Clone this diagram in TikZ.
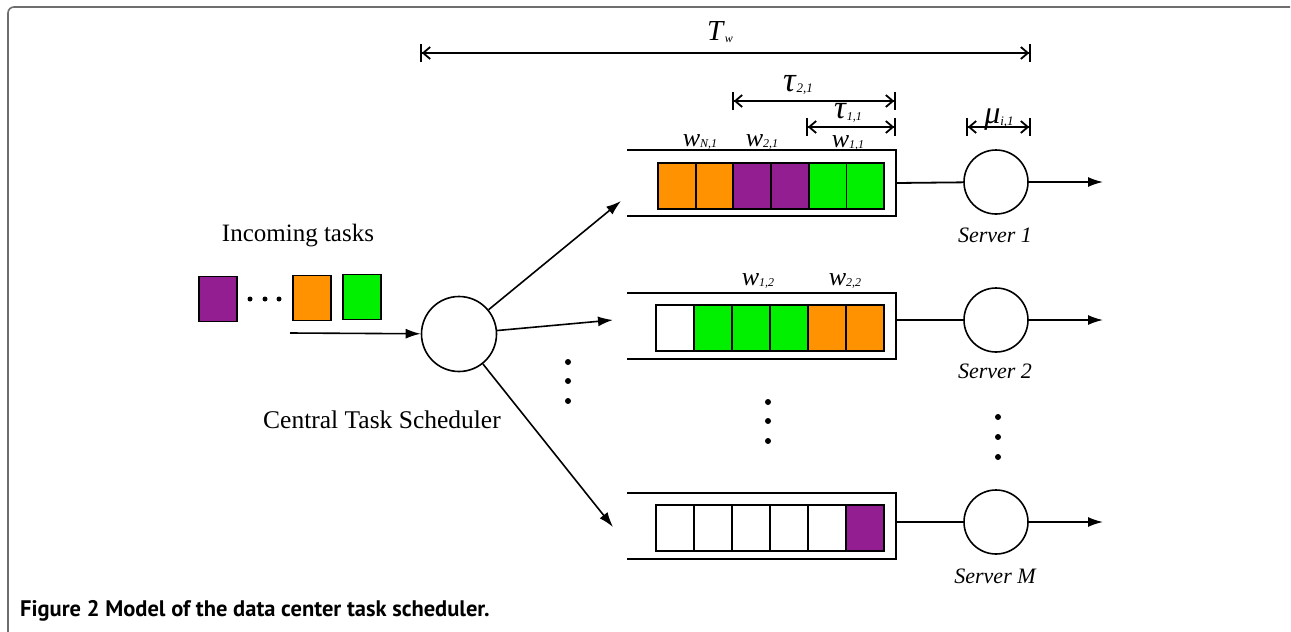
\documentclass[tikz,border=0pt]{standalone}
\usepackage{fontspec}
\setmainfont{Liberation Serif}
\newfontfamily\capfont{PT Sans}
\usetikzlibrary{arrows.meta,calc}

\definecolor{taskorange}{RGB}{255,146,0}
\definecolor{taskpurple}{RGB}{146,30,146}
\definecolor{taskgreen}{RGB}{0,240,0}
\definecolor{framegray}{RGB}{110,110,110}

% symbol with a small italic subscript
\newcommand{\symsub}[4]{{\fontsize{#3}{#3}\selectfont\textit{#1}}{\fontsize{#4}{#4}\selectfont\raisebox{-0.25ex}{\textit{#2}}}}

\begin{document}
\begin{tikzpicture}[x=1pt,y=-1pt,
  qline/.style={line width=1.8pt},
  cell/.style={draw, line width=1.8pt, minimum width=37.7pt, minimum height=46pt,
               inner sep=0pt, anchor=north west},
  task/.style={draw, line width=1.6pt, minimum width=38pt, minimum height=45pt, inner sep=0pt},
  server/.style={circle, draw, line width=1.6pt, minimum size=64pt, inner sep=0pt},
  flow/.style={line width=1.6pt, -{Latex[length=15pt,width=10pt]}},
  dimarr/.style={line width=1.8pt,
     {Bar[width=18pt,line width=1.8pt]Straight Barb[length=7pt,width=12pt,line width=1.8pt]}-{Straight Barb[length=7pt,width=12pt,line width=1.8pt]Bar[width=18pt,line width=1.8pt]}},
  dot/.style={circle, fill, minimum size=6pt, inner sep=0pt},
  plain/.style={inner sep=0pt}
]
\useasboundingbox (0,0) rectangle (1291,632);

% panel frame
\draw[framegray, line width=1.6pt, rounded corners=6pt] (8,632) -- (8,7) -- (1290,7);

% ---------------- incoming tasks ----------------
\node[plain, font=\fontsize{25}{25}\selectfont] (inlbl) at (298,236) {Incoming tasks};
\node[task, fill=taskpurple] (t1) at (218,299) {};
\node[dot, minimum size=5pt] (d1) at (250,299) {};
\node[dot, minimum size=5pt] (d2) at (265,299) {};
\node[dot, minimum size=5pt] (d3) at (279,299) {};
\node[task, fill=taskorange] (t2) at (312,298) {};
\node[task, fill=taskgreen] (t3) at (362,297) {};

% ---------------- central scheduler ----------------
\node[circle, draw, line width=1.6pt, minimum size=75pt, inner sep=0pt] (cts) at (459,334) {};
\node[plain, font=\fontsize{25.5}{25.5}\selectfont] (ctslbl) at (382,420) {Central Task Scheduler};
\coordinate (src) at (290,333);
\draw[flow] (src) -- (cts);

\coordinate (q1in) at (621,201);
\coordinate (q2in) at (613,320);
\coordinate (qMin) at (613,527);
\draw[flow] (cts) -- (q1in);
\draw[flow] (cts) -- (q2in);
\draw[flow] (cts) -- (qMin);

% ---------------- queue 1 ----------------
\draw[qline] (627,150) -| (896,216) -- (627,216);
\foreach \c [count=\i] in {taskorange,taskorange,taskpurple,taskpurple,taskgreen,taskgreen}
  \node[cell, fill=\c] (qa\i) at ({657+37.7*(\i-1)},162) {};
\coordinate (q1out) at (896,183);
\node[server] (s1) at (996,182) {};
\coordinate (o1) at (1103,182);
\draw[qline] (q1out) -- (s1);
\draw[flow] (s1) -- (o1);
\node[plain, font=\fontsize{22}{22}\selectfont\itshape] (s1lbl) at (995,235) {Server 1};

% ---------------- queue 2 ----------------
\draw[qline] (627,293) -| (896,359) -- (627,359);
\foreach \c [count=\i] in {white,taskgreen,taskgreen,taskgreen,taskorange,taskorange}
  \node[cell, fill=\c] (qb\i) at ({655+38*(\i-1)},304) {};
\coordinate (q2out) at (896,320);
\node[server] (s2) at (996,320) {};
\coordinate (o2) at (1103,320);
\draw[qline] (q2out) -- (s2);
\draw[flow] (s2) -- (o2);
\node[plain, font=\fontsize{22}{22}\selectfont\itshape] (s2lbl) at (995,371) {Server 2};

% ---------------- queue M ----------------
\draw[qline] (627,493) -| (896,559) -- (627,559);
\foreach \c [count=\i] in {white,white,white,white,white,taskpurple}
  \node[cell, fill=\c] (qm\i) at ({655+38*(\i-1)},504) {};
\coordinate (qMout) at (896,522);
\node[server] (sM) at (996,522) {};
\coordinate (oM) at (1103,522);
\draw[qline] (qMout) -- (sM);
\draw[flow] (sM) -- (oM);
\node[plain, font=\fontsize{22}{22}\selectfont\itshape] (sMlbl) at (995,576) {Server M};

% ---------------- vertical ellipses ----------------
\foreach \y [count=\i] in {362,381,401} \node[dot] (ea\i) at (568,\y) {};
\foreach \y [count=\i] in {402,421,441} \node[dot] (eb\i) at (768,\y) {};
\foreach \y [count=\i] in {417,437,457} \node[dot] (ec\i) at (998,\y) {};

% ---------------- waiting-time dimensions ----------------
\coordinate (twa) at (420,53);
\coordinate (twb) at (1031,53);
\draw[dimarr] (twa) -- (twb);
\node[plain] (twlbl) at (720,32) {\symsub{T}{w}{29}{12}};

\coordinate (t2a) at (732,101);
\coordinate (t2b) at (896,101);
\draw[dimarr] (t2a) -- (t2b);
\node[plain] (t2lbl) at (798,85) {\symsub{τ}{2,1}{35}{13}};

\coordinate (t1a) at (806,127);
\coordinate (t1b) at (896,127);
\draw[dimarr] (t1a) -- (t1b);
\node[plain] (t1lbl) at (848,113) {\symsub{τ}{1,1}{33}{12}};

\coordinate (ua) at (966,127);
\coordinate (ub) at (1031,127);
\draw[dimarr] (ua) -- (ub);
\node[plain] (ulbl) at (999,120) {\symsub{μ}{i,1}{32}{13}};

% ---------------- task-group labels ----------------
\node[plain] (wN1) at (700,142) {\symsub{w}{N,1}{26}{12}};
\node[plain] (w21) at (762,142) {\symsub{w}{2,1}{26}{12}};
\node[plain] (w11) at (848,143) {\symsub{w}{1,1}{26}{12}};
\node[plain] (w12) at (758,281) {\symsub{w}{1,2}{26}{12}};
\node[plain] (w22) at (845,281) {\symsub{w}{2,2}{26}{12}};

% ---------------- caption ----------------
\node[plain, anchor=west, font=\capfont\bfseries\fontsize{22.5}{22.5}\selectfont] (cap) at (20,611)
  {Figure 2 Model of the data center task scheduler.};
\end{tikzpicture}
\end{document}
